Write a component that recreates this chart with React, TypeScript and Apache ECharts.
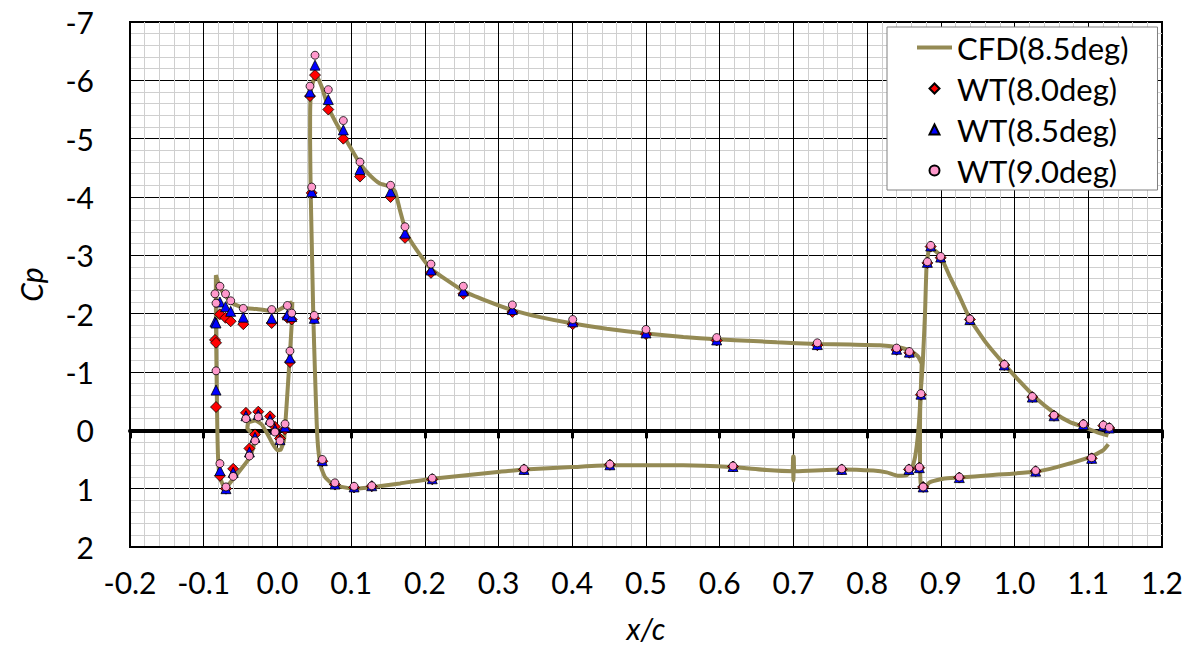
import React, { useEffect, useRef } from "react";
import * as echarts from "echarts";

// ---------- Axis setup ----------
const xMin = -0.2;
const xMax = 1.2;
const xStep = 0.1;
const yMin = -7;
const yMax = 2;
const yStep = 1;

// ---------- CFD (8.5 deg) curves ----------
// Slat element: upper TE -> upper surface -> LE -> lower surface -> cove -> TE
const slatX = [0.0202, 0.0126, 0.0013, -0.01, -0.0281, -0.0463, -0.06, -0.069, -0.078, -0.0835, -0.0834, -0.0826, -0.0815, -0.0802, -0.078, -0.0745, -0.0711, -0.0688, -0.0508, -0.0372, -0.0318, -0.0336, -0.0408, -0.0394, -0.0304, -0.0213, -0.0137, -0.0065, -0.0001, 0.0045, 0.0089, 0.0126, 0.0161, 0.0194, 0.0202];
const slatCp = [-2.2, -2.14, -2.06, -2.05, -2.08, -2.1, -2.17, -2.28, -2.45, -2.66, -1.9, -1.0, 0.0, 0.57, 0.8, 0.92, 0.99, 0.97, 0.69, 0.46, 0.23, 0.06, -0.03, -0.13, -0.17, -0.1, 0.06, 0.23, 0.34, 0.33, 0.17, -0.46, -1.14, -1.83, -2.2];

// Main element: TE -> upper surface -> LE -> lower surface -> TE
const mainX = [0.874, 0.8695, 0.8581, 0.84, 0.8175, 0.7768, 0.7324, 0.6773, 0.6456, 0.5959, 0.5506, 0.5, 0.4467, 0.4006, 0.3562, 0.3187, 0.2839, 0.2522, 0.2083, 0.189, 0.1754, 0.1663, 0.1595, 0.1527, 0.139, 0.1256, 0.112, 0.0962, 0.0826, 0.069, 0.06, 0.0525, 0.0462, 0.0445, 0.0443, 0.0451, 0.0465, 0.0487, 0.051, 0.0533, 0.0555, 0.0591, 0.0645, 0.0736, 0.087, 0.105, 0.13, 0.1663, 0.2101, 0.3019, 0.3345, 0.4006, 0.4512, 0.5009, 0.5506, 0.6162, 0.6637, 0.6985, 0.6995, 0.7, 0.7005, 0.7015, 0.7655, 0.8084, 0.8265, 0.842, 0.8536, 0.8604, 0.865, 0.8695, 0.8726, 0.874];
const mainCp = [-1.14, -1.26, -1.37, -1.43, -1.46, -1.47, -1.48, -1.51, -1.53, -1.56, -1.6, -1.66, -1.74, -1.83, -1.94, -2.06, -2.22, -2.39, -2.77, -3.09, -3.37, -3.77, -4.1, -4.18, -4.23, -4.37, -4.57, -4.91, -5.2, -5.54, -5.89, -6.09, -5.89, -5.54, -4.97, -4.11, -3.26, -1.94, -0.97, -0.11, 0.34, 0.63, 0.8, 0.91, 0.97, 1.0, 0.97, 0.91, 0.83, 0.71, 0.67, 0.63, 0.6, 0.6, 0.6, 0.63, 0.68, 0.7, 0.45, 0.86, 0.45, 0.7, 0.67, 0.69, 0.72, 0.78, 0.77, 0.66, 0.46, 0.0, -0.63, -1.14];

// Flap element: lower TE -> lower surface -> LE -> upper surface -> upper TE
const flapX = [1.1272, 1.1204, 1.1023, 1.0571, 1.0277, 0.9666, 0.925, 0.9032, 0.885, 0.876, 0.8726, 0.8717, 0.8717, 0.8726, 0.8754, 0.8785, 0.8808, 0.8853, 0.8989, 0.9124, 0.9237, 0.9394, 0.962, 0.9861, 1.0077, 1.03, 1.0526, 1.0752, 1.0933, 1.1114, 1.1272];
const flapCp = [0.24, 0.34, 0.46, 0.63, 0.71, 0.77, 0.81, 0.83, 0.89, 1.0, 0.91, 0.4, 0.0, -0.63, -1.14, -2.0, -2.86, -3.14, -3.0, -2.63, -2.34, -1.91, -1.49, -1.13, -0.83, -0.54, -0.31, -0.14, -0.06, 0.03, 0.09];

// ---------- Wind tunnel pressure taps ----------
const tapX = [
  -0.078, -0.0847, -0.0833, -0.0833, -0.078, -0.0698, -0.0704, -0.0634, -0.0463, -0.0078, 0.0135, 0.0194, 0.017, 0.0103, -0.0033, 0.0035, -0.01, -0.026, -0.0427, -0.0304, -0.038, -0.06,
  0.051, 0.0442, 0.069, 0.0894, 0.112, 0.1535, 0.1731, 0.2083, 0.2522, 0.3187, 0.4006, 0.5, 0.5959, 0.7324, 0.84, 0.8573, 0.0465, 0.05, 0.0609, 0.078, 0.104, 0.128, 0.21, 0.3345, 0.451, 0.618, 0.7655, 0.8567, 0.8708, 0.873,
  0.8862, 0.8817, 0.8998, 0.9394, 0.9861, 1.0241, 1.0535, 1.0933, 1.1204, 1.1285, 0.876, 0.925, 1.0286, 1.1046,
];
const wt80Cp = [
  -1.99, -1.55, -1.5, -0.4, 0.78, 1.0, -1.93, -1.87, -1.82, -1.84, -1.93, -1.9, -1.17, -0.02, -0.06, 0.14, -0.24, -0.32, -0.3, 0.07, 0.31, 0.66,
  -6.09, -5.73, -5.5, -5.0, -4.35, -4.0, -3.3, -2.7, -2.34, -2.03, -1.82, -1.65, -1.54, -1.46, -1.38, -1.33, -4.07, -1.92, 0.53, 0.93, 0.98, 0.96, 0.84, 0.67, 0.59, 0.62, 0.67, 0.67, 0.64, -0.61,
  -3.15, -2.87, -2.96, -1.9, -1.12, -0.57, -0.25, -0.1, -0.08, -0.04, 0.97, 0.81, 0.7, 0.48,
];
const wt85Cp = [
  -2.2, -1.86, -1.84, -0.69, 0.69, 1.0, -2.12, -2.04, -1.94, -1.92, -1.98, -1.95, -1.24, -0.06, -0.02, 0.16, -0.19, -0.27, -0.25, 0.12, 0.37, 0.72,
  -6.26, -5.8, -5.67, -5.15, -4.47, -4.09, -3.38, -2.75, -2.39, -2.07, -1.86, -1.67, -1.55, -1.47, -1.39, -1.34, -4.09, -1.92, 0.52, 0.92, 0.97, 0.95, 0.83, 0.67, 0.59, 0.62, 0.67, 0.67, 0.64, -0.62,
  -3.16, -2.88, -2.97, -1.9, -1.12, -0.57, -0.25, -0.1, -0.08, -0.04, 0.97, 0.81, 0.7, 0.48,
];
const wt90Cp = [
  -2.47, -2.34, -2.18, -1.02, 0.57, 0.97, -2.34, -2.22, -2.09, -2.07, -2.14, -2.01, -1.36, -0.11, 0.03, 0.18, -0.13, -0.23, -0.2, 0.18, 0.44, 0.79,
  -6.43, -5.9, -5.84, -5.31, -4.6, -4.2, -3.49, -2.85, -2.47, -2.15, -1.9, -1.73, -1.59, -1.5, -1.41, -1.35, -4.17, -1.97, 0.5, 0.9, 0.96, 0.95, 0.82, 0.66, 0.58, 0.61, 0.66, 0.66, 0.63, -0.63,
  -3.17, -2.89, -2.98, -1.91, -1.13, -0.58, -0.26, -0.11, -0.09, -0.05, 0.97, 0.8, 0.69, 0.47,
];

const seriesNames = ["CFD(8.5deg)", "WT(8.0deg)", "WT(8.5deg)", "WT(9.0deg)"];

// legend icons (path icons keep their aspect ratio inside the legend item box)
const legendIcons = [
  "path://M0,0L35,0L35,4L0,4Z",
  "path://M5,0L10,5L5,10L0,5Z",
  "path://M5,0L10,10L0,10Z",
  "path://M0,5A5,5,0,1,1,10,5A5,5,0,1,1,0,5Z",
];

const zip = (xs: number[], ys: number[]) => xs.map((x, i) => [x, ys[i]]);

const FONT = "Lato";
const CFD_COLOR = "#948A54";

export default function App() {
  const ref = useRef<HTMLDivElement>(null);

  useEffect(() => {
    if (!ref.current) return;
    const chart = echarts.init(ref.current, undefined, { renderer: "svg" });

    const cfdLine = (data: number[][]) => ({
      type: "line",
      name: seriesNames[0],
      data,
      showSymbol: false,
      symbol: "none",
      smooth: 0.15,
      lineStyle: { color: CFD_COLOR, width: 4 },
      itemStyle: { color: CFD_COLOR },
      z: 3,
    });

    const scatter = (name: string, ys: number[], symbol: string, size: number, color: string, z: number) => ({
      type: "scatter",
      name,
      data: zip(tapX, ys),
      symbol,
      symbolSize: size,
      itemStyle: { color, borderColor: "#000", borderWidth: 0.8, opacity: 1 },
      z,
    });

    const fmt = (v: number) => v.toFixed(1);

    chart.setOption({
      animation: false,
      textStyle: { fontFamily: FONT },
      grid: {
        left: 130,
        right: 24,
        top: 22,
        bottom: 107,
        show: true,
        borderColor: "#000",
        borderWidth: 2,
        containLabel: false,
      },
      legend: {
        orient: "vertical",
        left: 887,
        top: 27,
        padding: [5, 29, 4, 30],
        itemWidth: 35,
        itemHeight: 10,
        itemGap: 10,
        backgroundColor: "#fff",
        borderColor: "#808080",
        borderWidth: 1,
        borderRadius: 0,
        symbolKeepAspect: true,
        textStyle: { fontSize: 31, fontFamily: FONT, color: "#000", lineHeight: 30 },
        data: seriesNames.map((name, i) => ({ name, icon: legendIcons[i] })),
      },
      xAxis: [
        {
          type: "value",
          min: xMin,
          max: xMax,
          interval: xStep,
          position: "bottom",
          axisLine: { show: true, onZero: false, lineStyle: { color: "#000", width: 2 } },
          axisTick: { show: false },
          axisLabel: { fontSize: 30, fontFamily: FONT, color: "#000", margin: 20, formatter: fmt },
          splitLine: { show: true, lineStyle: { color: "#000", width: 1 } },
          minorTick: { show: false, splitNumber: 5 },
          minorSplitLine: { show: true, lineStyle: { color: "#cfcfcf", width: 1 } },
          name: "x/c",
          nameLocation: "middle",
          nameGap: 66,
          nameTextStyle: { fontSize: 30, fontStyle: "italic", fontFamily: FONT, color: "#000" },
        },
        {
          type: "value",
          min: xMin,
          max: xMax,
          interval: xStep,
          position: "bottom",
          axisLine: { show: true, onZero: true, onZeroAxisIndex: 0, lineStyle: { color: "#000", width: 4 } },
          axisTick: { show: true, length: 8, lineStyle: { color: "#000", width: 3 } },
          axisLabel: { show: false },
          splitLine: { show: false },
        },
      ],
      yAxis: {
        type: "value",
        min: yMin,
        max: yMax,
        interval: yStep,
        inverse: true,
        axisLine: { show: true, onZero: false, lineStyle: { color: "#000", width: 2 } },
        axisTick: { show: false },
        axisLabel: { fontSize: 30, fontFamily: FONT, color: "#000", margin: 36 },
        splitLine: { show: true, lineStyle: { color: "#000", width: 1 } },
        minorTick: { show: false, splitNumber: 5 },
        minorSplitLine: { show: true, lineStyle: { color: "#cfcfcf", width: 1 } },
        name: "Cp",
        nameLocation: "middle",
        nameGap: 84,
        nameTextStyle: { fontSize: 30, fontStyle: "italic", fontFamily: FONT, color: "#000" },
      },
      series: [
        cfdLine(zip(slatX, slatCp)),
        cfdLine(zip(mainX, mainCp)),
        cfdLine(zip(flapX, flapCp)),
        scatter(seriesNames[1], wt80Cp, "diamond", 11, "#FF0000", 4),
        scatter(seriesNames[2], wt85Cp, "triangle", 10, "#0000FF", 5),
        scatter(seriesNames[3], wt90Cp, "circle", 8, "#FF99CC", 6),
      ],
    });

    return () => chart.dispose();
  }, []);

  return (
    <div
      ref={ref}
      style={{ position: "absolute", left: 0, top: 0, width: 1186, height: 654, background: "#fff" }}
    />
  );
}
